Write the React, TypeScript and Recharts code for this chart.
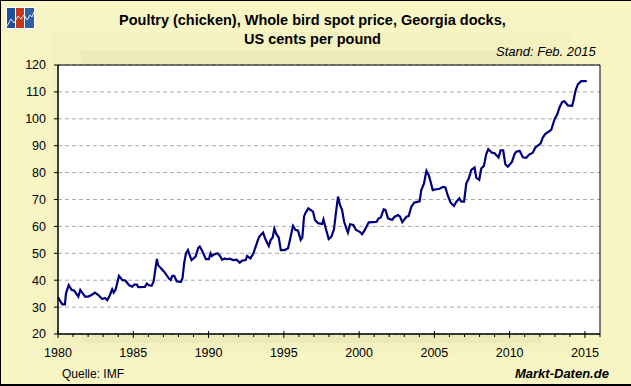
/** Poultry spot price line chart */

import { CartesianGrid, Line, LineChart, ReferenceArea, XAxis, YAxis } from 'recharts';

const FONT = '"Liberation Sans", Arial, sans-serif';

const yTicks = [20, 30, 40, 50, 60, 70, 80, 90, 100, 110, 120];
const xTicks = [
  1980, 1981, 1982, 1983, 1984, 1985, 1986, 1987, 1988, 1989, 1990, 1991, 1992, 1993, 1994, 1995, 1996, 1997, 1998,
  1999, 2000, 2001, 2002, 2003, 2004, 2005, 2006, 2007, 2008, 2009, 2010, 2011, 2012, 2013, 2014, 2015, 2016,
];

const times = [
  1980.0, 1980.13, 1980.29, 1980.46, 1980.53, 1980.71, 1980.9, 1981.08, 1981.35, 1981.48, 1981.8, 1982.0, 1982.23,
  1982.45, 1982.68, 1982.94, 1983.12, 1983.27, 1983.45, 1983.6, 1983.7, 1983.83, 1984.05, 1984.27, 1984.49, 1984.71,
  1984.93, 1985.07, 1985.24, 1985.33, 1985.77, 1985.9, 1986.04, 1986.22, 1986.35, 1986.46, 1986.57, 1986.64, 1986.84,
  1987.1, 1987.37, 1987.48, 1987.59, 1987.72, 1987.88, 1988.16, 1988.27, 1988.38, 1988.5, 1988.63, 1988.74, 1988.87,
  1989.14, 1989.31, 1989.42, 1989.58, 1989.82, 1990.02, 1990.13, 1990.22, 1990.37, 1990.59, 1990.75, 1990.9, 1991.08,
  1991.21, 1991.41, 1991.63, 1991.87, 1992.07, 1992.23, 1992.47, 1992.56, 1992.78, 1992.98, 1993.13, 1993.29, 1993.4,
  1993.62, 1993.78, 1994.0, 1994.13, 1994.26, 1994.37, 1994.5, 1994.66, 1994.8, 1995.06, 1995.28, 1995.44, 1995.61,
  1995.77, 1995.94, 1996.12, 1996.23, 1996.34, 1996.43, 1996.63, 1996.94, 1997.07, 1997.27, 1997.54, 1997.63, 1997.74,
  1997.98, 1998.16, 1998.33, 1998.47, 1998.6, 1998.73, 1998.87, 1999.0, 1999.15, 1999.26, 1999.4, 1999.62, 1999.79,
  2000.04, 2000.2, 2000.37, 2000.64, 2001.15, 2001.3, 2001.44, 2001.63, 2001.75, 2001.92, 2002.19, 2002.36, 2002.59,
  2002.72, 2002.87, 2003.14, 2003.29, 2003.47, 2003.65, 2003.8, 2004.02, 2004.13, 2004.31, 2004.47, 2004.62, 2004.75,
  2004.89, 2005.13, 2005.35, 2005.57, 2005.73, 2005.9, 2006.08, 2006.3, 2006.46, 2006.66, 2006.79, 2006.97, 2007.12,
  2007.28, 2007.45, 2007.67, 2007.78, 2007.98, 2008.11, 2008.29, 2008.44, 2008.58, 2008.82, 2009.0, 2009.26, 2009.4,
  2009.57, 2009.71, 2009.88, 2010.15, 2010.32, 2010.44, 2010.66, 2010.88, 2011.1, 2011.32, 2011.54, 2011.7, 2012.05,
  2012.2, 2012.36, 2012.76, 2012.98, 2013.16, 2013.31, 2013.49, 2013.64, 2013.86, 2014.15, 2014.26, 2014.37, 2014.53,
  2014.75, 2015.12,
];

const prices = [
  33.6, 32.4, 31, 31, 35.1, 38.2, 36.4, 36.1, 33.9, 36.4, 33.9, 33.9, 34.5,
  35.4, 34.5, 33, 33.4, 32.6, 34.5, 36.6, 35.4, 36.6, 41.6, 40.1, 39.8, 38.2,
  37.6, 38.4, 38.4, 37.4, 37.5, 38.7, 38.1, 37.9, 39.5, 43.8, 47.9, 45.7, 44.4,
  42.8, 40.6, 40.1, 41.6, 41.6, 39.6, 39.3, 40.7, 46.3, 50, 51.2, 49.4, 47.5,
  48.8, 51.9, 52.5, 50.9, 47.8, 47.8, 50, 49, 49.6, 50, 49.1, 47.6, 48.1,
  47.8, 48, 47.5, 47.6, 46.5, 47.3, 47.5, 49, 48.1, 50, 52.5, 55.2, 56.4,
  57.7, 55.2, 52.7, 55, 55.9, 59.2, 57.2, 55.9, 51.2, 51.2, 51.9, 55.9, 60.2,
  58.7, 58.4, 55, 55.9, 63.6, 64.9, 66.7, 65.5, 62.4, 61.2, 60.9, 62.6, 60.2,
  55.3, 56.2, 58.9, 65.5, 71.1, 68, 66.1, 61.8, 59.3, 57.7, 60.8, 60.5, 58.7,
  58, 57.1, 58.6, 61.5, 61.7, 63, 63.3, 66.3, 66.1, 63, 62.4, 63.6, 64.2,
  63.6, 61.6, 63.6, 63.8, 67.3, 68.8, 69, 69.3, 73.5, 76, 80.7, 79.1, 76.6,
  73.5, 73.8, 74, 74.7, 74.5, 71.3, 68.8, 67.6, 69.2, 70.4, 69.2, 69.2, 76,
  77.8, 81, 81.9, 78.1, 77.3, 81.5, 82.5, 86.8, 88.7, 87.4, 87.2, 85.6, 88.3,
  88.3, 83.1, 82.2, 84, 86.8, 87.8, 88.1, 85.7, 85.5, 86.8, 87.4, 89.3, 90.8,
  93, 94.3, 95.9, 99.8, 101.7, 104.2, 106.3, 106.5, 105, 104.8, 107.3, 110.4, 112.8,
  114, 114,
];

const chartData = times.map((time, i) => ({ time, price: prices[i] }));

function YearTick({ x, y, payload }: any) {
  const major = payload.value % 5 === 0;
  return (
    <g>
      <line x1={x} x2={x} y1={major ? y - 3 : y} y2={major ? y + 4 : y + 3} stroke="#000" />
      {major && payload.value < 2016 && (
        <text x={x} y={y + 23} textAnchor="middle" fontSize={12.5} fontFamily={FONT} fill="#000">
          {payload.value}
        </text>
      )}
    </g>
  );
}

function Label({ style, children }: any) {
  return <div style={{ position: 'absolute', whiteSpace: 'nowrap', fontFamily: FONT, color: '#000', ...style }}>{children}</div>;
}

function Logo() {
  return (
    <svg width={29} height={22} style={{ position: 'absolute', left: 5, top: 6 }}>
      <rect width={29} height={22} fill="#fff" />
      <rect x={1} y={1} width={8} height={20} fill="#1f4f9c" />
      <rect x={10} y={1} width={8} height={20} fill="#c23a1a" />
      <rect x={19} y={1} width={9} height={20} fill="#2e5ea6" />
      <polyline points="1,19 5,12 8,16 12,9 15,12 18,8 21,13 24,8 26,10 28,5" fill="none" stroke="#e8e8f0" />
    </svg>
  );
}

export default function App() {
  return (
    <div
      style={{
        position: 'absolute',
        left: 0,
        top: 0,
        width: 631,
        height: 386,
        boxSizing: 'border-box',
        overflow: 'hidden',
        background: '#f8f5c5',
        borderTop: '1px solid #000',
        borderLeft: '1px solid #000',
        borderBottom: '2px solid #000',
      }}
    >
      <div style={{ position: 'absolute', left: 51, top: 31, width: 519, height: 321, background: '#f4f1c0' }} />
      <div style={{ position: 'absolute', left: 80, top: 50, width: 460, height: 292, background: '#ede9b8' }} />
      <Logo />
      <Label style={{ left: 118, top: 11, fontSize: 14.5, fontWeight: 'bold' }}>
        Poultry (chicken), Whole bird spot price, Georgia docks,
      </Label>
      <Label style={{ left: 243, top: 30, fontSize: 14.5, fontWeight: 'bold' }}>US cents per pound</Label>
      <Label style={{ left: 495, top: 43, fontSize: 13, fontStyle: 'italic' }}>Stand: Feb. 2015</Label>
      <Label style={{ left: 61, top: 366, fontSize: 12 }}>Quelle: IMF</Label>
      <Label style={{ left: 514, top: 365, fontSize: 13, fontWeight: 'bold', fontStyle: 'italic' }}>Markt-Daten.de</Label>
      <div style={{ position: 'absolute', left: -1, top: -1 }}>
        <LineChart width={631} height={386} data={chartData} margin={{ top: 65, right: 31, bottom: 0, left: 0 }}>
          <CartesianGrid vertical={false} fill="#fff" stroke="#aaa" strokeDasharray="4 3" />
          <XAxis
            dataKey="time"
            type="number"
            domain={[1980, 2016]}
            ticks={xTicks}
            interval={0}
            height={52}
            tickLine={false}
            tickSize={0}
            tickMargin={0}
            tick={<YearTick />}
            axisLine={{ stroke: '#000' }}
          />
          <YAxis
            type="number"
            domain={[20, 120]}
            ticks={yTicks}
            interval={0}
            width={58}
            tickSize={4}
            tickMargin={8}
            tick={{ fontSize: 12.5, fontFamily: FONT, fill: '#000' }}
            tickLine={{ stroke: '#000' }}
            axisLine={{ stroke: '#000' }}
          />
          <ReferenceArea x1={1980} x2={2016} y1={20} y2={120} fill="none" stroke="#000" fillOpacity={0} />
          <Line dataKey="price" stroke="#00007f" strokeWidth={2.2} dot={false} isAnimationActive={false} />
        </LineChart>
      </div>
    </div>
  );
}
